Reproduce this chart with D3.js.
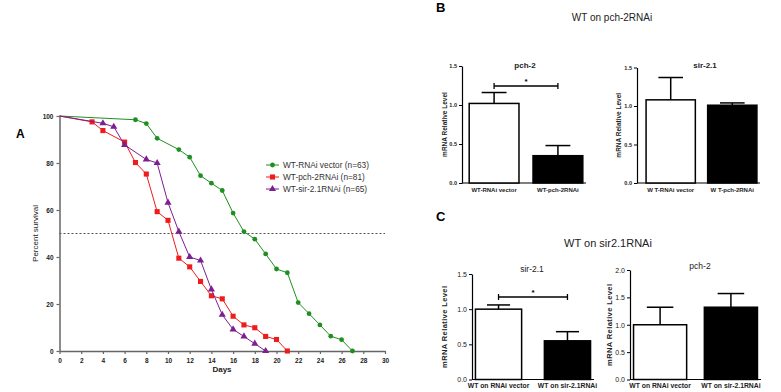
<!DOCTYPE html>
<html>
<head>
<meta charset="utf-8">
<script src="https://cdn.jsdelivr.net/npm/d3@7"></script>
<style>
  body { margin: 0; background: #fff; }
  svg { font-family: "Liberation Sans", Arial, sans-serif; }
</style>
</head>
<body>
<div id="chart"></div>
<script>
// survival data (panel A)
const vectorDays = [0, 7, 8, 9, 11, 12, 13, 14, 15, 16, 17, 18, 19, 20, 21, 22, 23, 24, 25, 26, 27];
const vectorSurv = [100, 98.4, 96.8, 90.5, 85.7, 82.5, 74.6, 71.4, 68.3, 58.7, 50.8, 47.6, 41.3, 34.9, 33.3, 20.6, 15.9, 11.1, 6.3, 4.8, 0];
const pchDays = [0, 3, 4, 6, 7, 8, 9, 10, 11, 12, 13, 14, 15, 16, 17, 18, 19, 20, 21];
const pchSurv = [100, 97.5, 93.8, 88.9, 80.2, 75.3, 59.3, 55.6, 39.5, 35.8, 29.6, 23.5, 22.2, 14.8, 11.1, 9.9, 6.2, 4.9, 0];
const sirDays = [0, 4, 5, 6, 8, 9, 10, 11, 12, 13, 14, 15, 16, 17, 18, 19];
const sirSurv = [100, 96.9, 95.4, 87.7, 81.5, 80.0, 63.1, 50.8, 40.0, 38.5, 26.2, 15.4, 9.2, 6.2, 3.1, 0];
const seriesNames = ["WT-RNAi vector (n=63)", "WT-pch-2RNAi (n=81)", "WT-sir-2.1RNAi (n=65)"];

// qPCR data (panels B and C)
const bCats1 = ["WT-RNAi vector", "WT-pch-2RNAi"];
const bPchMean = [1.02, 0.35];
const bPchErr = [0.14, 0.13];
const bCats2 = ["W T-RNAi vector", "W T-pch-2RNAi"];
const bSirMean = [1.08, 1.01];
const bSirErr = [0.29, 0.03];
const cCats = ["WT on RNAi vector", "WT on sir-2.1RNAi"];
const cSirMean = [1.0, 0.55];
const cSirErr = [0.06, 0.13];
const cPchMean = [1.0, 1.32];
const cPchErr = [0.32, 0.25];

const width = 781, height = 392;
const svg = d3.select("#chart").append("svg")
  .attr("width", width)
  .attr("height", height);

// ---------- Panel A: survival curves ----------
const x = d3.scaleLinear().domain([0, 30]).range([59.5, 385]);
const y = d3.scaleLinear().domain([0, 100]).range([351, 116]);
const axisCol = "#666";

const gA = svg.append("g");

const xAxis = gA.append("g")
  .attr("transform", `translate(0,${y(0)})`)
  .call(d3.axisBottom(x).tickValues(d3.range(0, 31, 2)).tickSize(3).tickSizeOuter(0));
const yAxis = gA.append("g")
  .attr("transform", `translate(${x(0)},0)`)
  .call(d3.axisLeft(y).tickValues(d3.range(0, 101, 20)).tickSize(3).tickSizeOuter(0));
[xAxis, yAxis].forEach(a => {
  a.select(".domain").attr("stroke", axisCol).attr("stroke-width", 1.5);
  a.selectAll(".tick line").attr("stroke", axisCol).attr("stroke-width", 1.2);
  a.selectAll("text").attr("font-size", 6.5).attr("font-weight", "bold").attr("fill", "#222");
});
xAxis.selectAll("text").attr("dy", "0.9em");

// 50% reference line
gA.append("line")
  .attr("x1", x(0)).attr("x2", x(30))
  .attr("y1", y(50)).attr("y2", y(50))
  .attr("stroke", "#555").attr("stroke-width", 1.2)
  .attr("stroke-dasharray", "2,2");

const series = [
  { days: vectorDays, surv: vectorSurv, color: "#1f8f1f", shape: d3.symbolCircle, size: 18 },
  { days: pchDays, surv: pchSurv, color: "#ee1c1c", shape: d3.symbolSquare, size: 26 },
  { days: sirDays, surv: sirSurv, color: "#7d1e91", shape: d3.symbolTriangle, size: 22 }
];

const line = d3.line().x(d => x(d[0])).y(d => y(d[1]));

series.forEach(s => {
  const pts = s.days.map((d, i) => [d, s.surv[i]]);
  gA.append("path")
    .datum(pts)
    .attr("d", line)
    .attr("fill", "none")
    .attr("stroke", s.color)
    .attr("stroke-width", 1);
  gA.selectAll(null)
    .data(pts.slice(1))
    .enter()
    .append("path")
    .attr("d", d3.symbol().type(s.shape).size(s.size))
    .attr("transform", d => `translate(${x(d[0])},${y(d[1])})`)
    .attr("fill", s.color);
});

// legend
const legend = gA.append("g").attr("transform", "translate(266,165)");
series.forEach((s, i) => {
  const row = legend.append("g").attr("transform", `translate(0,${i * 12})`);
  row.append("line").attr("x1", 0).attr("x2", 13).attr("stroke", s.color).attr("stroke-width", 1);
  row.append("path").attr("d", d3.symbol().type(s.shape).size(s.size)).attr("transform", "translate(6.5,0)").attr("fill", s.color);
  row.append("text").attr("x", 17).attr("dy", "0.35em").attr("font-size", 8.3).attr("fill", "#333").text(seriesNames[i]);
});

gA.append("text")
  .attr("transform", `translate(38,${y(50)}) rotate(-90)`)
  .attr("text-anchor", "middle")
  .attr("font-size", 8).attr("fill", "#222")
  .text("Percent survival");
gA.append("text")
  .attr("x", 222).attr("y", 372)
  .attr("text-anchor", "middle")
  .attr("font-size", 8).attr("font-weight", "bold").attr("fill", "#222")
  .text("Days");
gA.append("text")
  .attr("x", 16).attr("y", 138)
  .attr("font-size", 12).attr("font-weight", "bold")
  .text("A");

// ---------- Bar panels ----------
function drawBarPanel(cfg) {
  const g = svg.append("g");
  const ys = d3.scaleLinear().domain([0, cfg.yMax]).range([cfg.y0, cfg.y1]);
  const xs = d3.scaleBand().domain(cfg.cats).range(cfg.xRange)
    .paddingInner(cfg.padIn).paddingOuter(0.05);

  const ax = g.append("g")
    .attr("transform", `translate(${cfg.axisX},0)`)
    .call(d3.axisLeft(ys).ticks(cfg.yMax / 0.5).tickFormat(d3.format(".1f")).tickSize(3).tickPadding(2).tickSizeOuter(0));
  ax.select(".domain").attr("stroke-width", 1.2);
  ax.selectAll("text").attr("font-size", cfg.tickSize).attr("font-weight", cfg.bold ? "bold" : "normal").attr("fill", "#222");

  g.append("line")
    .attr("x1", cfg.axisX).attr("x2", cfg.xRange[1])
    .attr("y1", cfg.y0).attr("y2", cfg.y0)
    .attr("stroke", "#000").attr("stroke-width", 1.2);

  // error bars (upper only)
  cfg.cats.forEach((c, i) => {
    const cx = xs(c) + xs.bandwidth() / 2;
    const top = ys(cfg.mean[i] + cfg.err[i]);
    const cap = xs.bandwidth() * 0.25;
    g.append("line").attr("x1", cx).attr("x2", cx).attr("y1", ys(cfg.mean[i])).attr("y2", top).attr("stroke", "#000").attr("stroke-width", 1.5);
    g.append("line").attr("x1", cx - cap).attr("x2", cx + cap).attr("y1", top).attr("y2", top).attr("stroke", "#000").attr("stroke-width", 1.5);
  });

  g.selectAll(".bar")
    .data(cfg.cats)
    .enter()
    .append("rect")
    .attr("class", "bar")
    .attr("x", d => xs(d))
    .attr("width", xs.bandwidth())
    .attr("y", (d, i) => ys(cfg.mean[i]))
    .attr("height", (d, i) => cfg.y0 - ys(cfg.mean[i]))
    .attr("fill", (d, i) => i === 0 ? "#fff" : "#000")
    .attr("stroke", "#000")
    .attr("stroke-width", 1.5);

  g.selectAll(".cat")
    .data(cfg.cats)
    .enter()
    .append("text")
    .attr("x", d => xs(d) + xs.bandwidth() / 2)
    .attr("y", cfg.y0 + cfg.catDy)
    .attr("text-anchor", "middle")
    .attr("font-size", cfg.catSize)
    .attr("font-weight", "bold")
    .attr("fill", "#222")
    .text(d => d);

  g.append("text")
    .attr("transform", `translate(${cfg.labelX},${(cfg.y0 + cfg.y1) / 2}) rotate(-90)`)
    .attr("text-anchor", "middle")
    .attr("dy", "0.35em")
    .attr("font-size", cfg.labelSize)
    .attr("font-weight", "bold")
    .attr("letter-spacing", cfg.labelSpacing)
    .attr("fill", "#222")
    .text("mRNA Relative Level");

  g.append("text")
    .attr("x", cfg.titleX).attr("y", cfg.titleY)
    .attr("text-anchor", "middle")
    .attr("font-size", cfg.titleSize)
    .attr("font-weight", cfg.bold ? "bold" : "normal")
    .attr("fill", "#222")
    .text(cfg.title);

  if (cfg.sig) {
    const a = xs(cfg.cats[0]) + xs.bandwidth() / 2;
    const b = xs(cfg.cats[1]) + xs.bandwidth() / 2;
    g.append("line").attr("x1", a).attr("x2", b).attr("y1", cfg.sigY).attr("y2", cfg.sigY).attr("stroke", "#000").attr("stroke-width", 1.3);
    [a, b].forEach(v => g.append("line").attr("x1", v).attr("x2", v).attr("y1", cfg.sigY - 3).attr("y2", cfg.sigY + 3).attr("stroke", "#000").attr("stroke-width", 1.3));
    g.append("text").attr("x", (a + b) / 2).attr("y", cfg.sigY - 2).attr("text-anchor", "middle")
      .attr("font-size", 8).attr("font-weight", "bold").text("*");
  }
}

const bStyle = { bold: true, tickSize: 5.5, catSize: 6, catDy: 9, labelSize: 6.5, labelSpacing: 0, titleSize: 8 };
const cStyle = { bold: false, tickSize: 7, catSize: 6.8, catDy: 8, labelSize: 7.5, labelSpacing: 0.4, titleSize: 8.5 };

drawBarPanel(Object.assign({}, bStyle, {
  cats: bCats1, mean: bPchMean, err: bPchErr, yMax: 1.5,
  y0: 183, y1: 66, axisX: 462, xRange: [466, 586], padIn: 0.22,
  labelX: 445, title: "pch-2", titleX: 525, titleY: 68, sig: true, sigY: 86
}));
drawBarPanel(Object.assign({}, bStyle, {
  cats: bCats2, mean: bSirMean, err: bSirErr, yMax: 1.5,
  y0: 183, y1: 67.5, axisX: 637, xRange: [643, 760], padIn: 0.2,
  labelX: 619, title: "sir-2.1", titleX: 705, titleY: 68, sig: false
}));
drawBarPanel(Object.assign({}, cStyle, {
  cats: cCats, mean: cSirMean, err: cSirErr, yMax: 1.5,
  y0: 379.5, y1: 274, axisX: 472, xRange: [472, 594], padIn: 0.33,
  labelX: 444, title: "sir-2.1", titleX: 532, titleY: 272, sig: true, sigY: 297
}));
drawBarPanel(Object.assign({}, cStyle, {
  cats: cCats, mean: cPchMean, err: cPchErr, yMax: 2.0,
  y0: 379.5, y1: 270, axisX: 630, xRange: [630, 761], padIn: 0.25,
  labelX: 609, title: "pch-2", titleX: 700, titleY: 269, sig: false
}));

// panel headings
svg.append("text").attr("x", 436).attr("y", 12).attr("font-size", 13).attr("font-weight", "bold").text("B");
svg.append("text").attr("x", 612).attr("y", 21).attr("text-anchor", "middle").attr("font-size", 10).attr("fill", "#222").text("WT on pch-2RNAi");
svg.append("text").attr("x", 436).attr("y", 221).attr("font-size", 13).attr("font-weight", "bold").text("C");
svg.append("text").attr("x", 608).attr("y", 247).attr("text-anchor", "middle").attr("font-size", 11).attr("fill", "#222").text("WT on sir2.1RNAi");
</script>
</body>
</html>
